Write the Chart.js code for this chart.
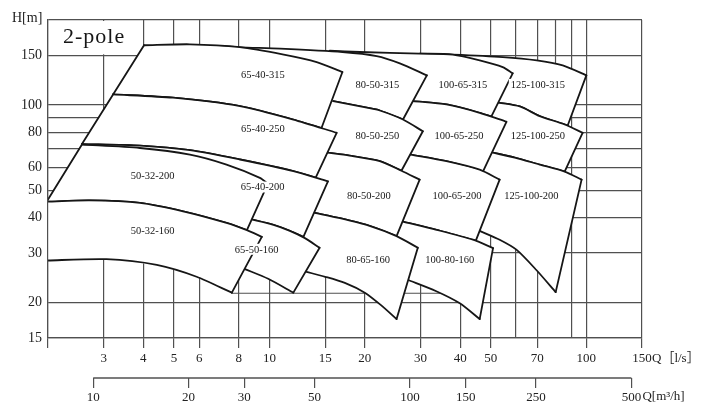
<!DOCTYPE html>
<html>
<head>
<meta charset="utf-8">
<script src="https://cdn.jsdelivr.net/npm/chart.js@4.4.0/dist/chart.umd.min.js"></script>
<style>
  html, body { margin: 0; padding: 0; background: #fff; }
  #wrap { width: 701px; height: 414px; }
</style>
</head>
<body>
<div id="wrap"><canvas id="chart"></canvas></div>
<script>
// axis ticks
const qTicks = [2, 3, 4, 5, 6, 8, 10, 15, 20, 30, 40, 50, 60, 70, 80, 90, 100, 150];
const qLabeled = [3, 4, 5, 6, 8, 10, 15, 20, 30, 40, 50, 70, 100, 150];
const hTicks = [15, 20, 30, 40, 50, 60, 70, 80, 90, 100, 150, 200];
const hLabeled = [15, 20, 30, 40, 50, 60, 80, 100, 150];
const m3hTicks = [10, 20, 30, 50, 100, 150, 250, 500];

// tile outlines as [Q l/s, H m]: top edge left->right, bottom edge right->left,
// plus hidden points that only close the white fill
const top125_315 = [[29.8,152.1],[37.9,150.9],[54.5,147.9],[69.8,144.0],[84.3,138.2],[100.1,127.4]];
const bot125_315 = [[87.4,84.7],[71.3,91.4],[61.7,98.9],[52.2,102.2]];
const hid125_315 = [[42.9,118.4]];
const top125_250 = [[52.2,102.2],[61.7,98.9],[71.3,91.4],[85.5,85.4],[97.4,79.8]];
const bot125_250 = [[85.5,58.2],[71.3,61.6],[59.5,65.2],[50.7,67.9]];
const hid125_250 = [[42.9,75.5],[42.9,100.5]];
const top125_200 = [[50.7,67.9],[59.5,65.2],[71.3,61.6],[85.5,58.2],[96.7,54.5]];
const bot125_200 = [[80.1,21.8],[69.6,26.1],[60.2,30.8],[53.3,33.4],[46.1,35.9]];
const hid125_200 = [[39.9,46.3],[42.9,69.6]];

const top100_315 = [[15.5,155.7],[19.3,154.1],[29.8,152.1],[37.9,150.9],[46.1,144.0],[54.5,136.3],[58.6,129.5]];
const bot100_315 = [[50.2,91.2],[46.1,93.9],[36.2,100.5],[28.4,103.3]];
const hid100_315 = [[22.3,123.3]];
const top100_250 = [[28.4,103.3],[36.2,100.5],[46.1,93.9],[56.0,87.3]];
const bot100_250 = [[47.2,58.2],[36.2,63.3],[27.9,66.8]];
const hid100_250 = [[24.0,82.0]];
const top100_200 = [[27.9,66.8],[36.2,63.3],[46.1,59.1],[53.3,54.5]];
const bot100_200 = [[44.8,33.1],[33.7,36.2],[26.4,38.7]];
const hid100_200 = [[23.1,50.2]];
const top100_160 = [[26.4,38.7],[33.7,36.2],[43.9,33.4],[50.8,31.2]];
const bot100_160 = [[46.1,17.5],[39.9,19.9],[33.5,22.0],[27.3,24.1]];
const hid100_160 = [[26.7,29.5],[24.9,35.6]];

const top80_315 = [[6.98,161.8],[8.07,160.1],[10.8,158.4],[17.0,154.1],[21.8,149.1],[25.8,140.5],[31.4,127.4]];
const bot80_315 = [[26.4,88.9],[22.3,95.7],[20.3,97.9],[15.9,103.3]];
const hid80_315 = [[9.33,123.3]];
const top80_250 = [[15.9,103.3],[20.3,97.9],[22.3,95.7],[26.4,88.9],[30.5,80.8]];
const bot80_250 = [[26.1,58.6],[22.3,63.4],[17.9,66.3],[15.2,67.9]];
const hid80_250 = [[12.5,75.5]];
const top80_200 = [[15.2,67.9],[17.9,66.3],[22.3,63.4],[26.1,58.6],[29.8,54.5]];
const bot80_200 = [[25.2,34.4],[20.7,37.4],[16.7,39.8],[13.9,41.6]];
const hid80_200 = [[12.5,50.2]];
const top80_160 = [[13.9,41.6],[16.7,39.8],[20.7,37.4],[25.2,34.4],[29.4,31.3]];
const bot80_160 = [[25.2,17.5],[22.5,19.6],[20.0,21.7],[17.3,23.5],[15.0,24.7],[13.1,25.7]];
const hid80_160 = [[11.6,32.0]];

const top65_315 = [[4.02,162.8],[5.61,164.1],[8.07,160.3],[11.0,151.2],[14.1,142.0],[17.0,130.9]];
const bot65_315 = [[14.6,83.0],[11.9,88.9],[8.07,99.2],[4.96,106.2],[3.21,109.1]];
const top65_250 = [[3.21,109.1],[4.96,106.2],[8.07,99.2],[11.9,88.9],[16.3,79.8]];
const bot65_250 = [[14.0,55.4],[11.9,58.4],[8.07,64.2],[5.61,69.3],[3.90,71.9],[2.56,72.8]];
const top65_200 = [[2.56,72.8],[3.90,71.9],[5.61,69.3],[8.07,64.2],[11.9,58.4],[15.3,53.7]];
const bot65_200 = [[12.8,34.2],[11.6,35.9],[10.3,37.7],[8.68,39.5]];
const hid65_200 = [[7.50,46.3]];
const top65_160 = [[8.68,39.5],[10.3,37.7],[11.6,35.9],[12.9,33.9],[14.4,31.3]];
const bot65_160 = [[11.9,21.7],[9.91,24.3],[8.37,26.3]];
const hid65_160 = [[7.95,33.4],[8.49,38.7]];

const top50_200 = [[2.56,72.5],[3.90,70.5],[5.61,66.8],[7.32,61.6],[9.33,55.3],[9.89,52.7]];
const bot50_200 = [[8.49,36.1],[7.32,38.3],[5.34,42.1],[3.90,45.1],[2.71,46.0],[1.98,45.5]];
const top50_160 = [[1.94,45.5],[2.71,46.0],[3.90,45.1],[5.34,42.1],[7.32,38.3],[8.49,36.1],[9.46,34.2]];
const bot50_160 = [[7.61,21.7],[5.89,24.7],[4.41,27.2],[3.06,28.5],[2.0,28.2],[1.94,28.1]];

// loose rules that are not on the regular grid
const grid80 = [[80,200],[80,25]];
const step22 = [[7.61,21.6],[34.5,21.6]];

// type labels
const tileNames = ['65-40-315','65-40-250','50-32-200','65-40-200','50-32-160','65-50-160',
  '80-50-315','100-65-315','125-100-315','80-50-250','100-65-250','125-100-250',
  '80-50-200','100-65-200','125-100-200','80-65-160','100-80-160'];
const labelQ = [9.53, 9.53, 4.28, 9.51, 4.28, 9.11, 21.9, 40.8, 70.4, 21.9, 39.7, 70.4, 20.6, 39.1, 67.1, 20.5, 37.1];
const labelH = [127.7, 82.6, 56.3, 51.3, 36.0, 30.9, 118.4, 118.4, 118.4, 78.1, 78.1, 78.1, 47.6, 47.6, 47.6, 28.4, 28.4];

const SERIF = '"Liberation Serif", "Noto Sans CJK SC", serif';
const INK = '#161616';
const GRID = '#505050';
const CLEAR = 'rgba(0,0,0,0)';

// drawing order: right columns first, so tiles further left lie on top
const tiles = [
  [top125_315, bot125_315, hid125_315, false],
  [top125_250, bot125_250, hid125_250, false],
  [top125_200, bot125_200, hid125_200, false],
  [top100_315, bot100_315, hid100_315, false],
  [top100_250, bot100_250, hid100_250, false],
  [top100_200, bot100_200, hid100_200, false],
  [top100_160, bot100_160, hid100_160, false],
  [top80_315, bot80_315, hid80_315, false],
  [top80_250, bot80_250, hid80_250, false],
  [top80_200, bot80_200, hid80_200, false],
  [top80_160, bot80_160, hid80_160, false],
  [top65_315, bot65_315, [], true],
  [top65_250, bot65_250, [], true],
  [top65_200, bot65_200, hid65_200, false],
  [top65_160, bot65_160, hid65_160, false],
  [top50_200, bot50_200, [], true],
  [top50_160, bot50_160, [], false]
];

const layers = [];
function addLine(list, extra) {
  layers.push(Object.assign({
    data: list.map(p => ({ x: p[0], y: p[1] })),
    xAxisID: 'x', yAxisID: 'y',
    fill: false, borderColor: INK, borderWidth: 1.8, borderCapStyle: 'round',
    pointRadius: 0, pointHoverRadius: 0, tension: 0
  }, extra));
}

addLine(grid80, { borderColor: GRID, borderWidth: 1.2 });
addLine(step22, { borderColor: GRID, borderWidth: 1.2 });

tiles.forEach(([top, bot, hid, left]) => {
  addLine(top.concat(bot, hid), { fill: 'shape', backgroundColor: '#fff', borderWidth: 0, borderColor: CLEAR });
  addLine(top, { tension: 0.25 });
  addLine([top[top.length - 1], bot[0]]);
  addLine(bot, { tension: 0.25 });
  if (left) addLine([bot[bot.length - 1], top[0]]);
});

// first entry at the bottom of the stack
layers.forEach((d, i) => { d.order = layers.length - i; });

const decor = {
  id: 'decor',
  beforeDatasetsDraw(chart) {
    const { ctx, scales: { x, y } } = chart;
    const l = x.getPixelForValue(2), r = x.getPixelForValue(4);
    const t = y.getPixelForValue(200), b = y.getPixelForValue(150);
    ctx.save();
    ctx.fillStyle = '#fff';
    ctx.fillRect(l + 1, t + 1, r - l - 2, b - t - 2);
    ctx.fillStyle = INK;
    ctx.font = '22px ' + SERIF;
    ctx.letterSpacing = '1px';
    ctx.textAlign = 'left';
    ctx.textBaseline = 'alphabetic';
    ctx.fillText('2-pole', l + 15, b - 12);
    ctx.restore();
  },
  afterDatasetsDraw(chart) {
    const { ctx, scales: { x, y } } = chart;
    ctx.save();
    ctx.font = '10.5px ' + SERIF;
    ctx.textAlign = 'center';
    ctx.textBaseline = 'middle';
    tileNames.forEach((name, i) => {
      const px = x.getPixelForValue(labelQ[i]);
      const py = y.getPixelForValue(labelH[i]);
      const w = ctx.measureText(name).width;
      ctx.fillStyle = '#fff';
      ctx.fillRect(px - w / 2 - 2, py - 5.5, w + 4, 11);
      ctx.fillStyle = INK;
      ctx.fillText(name, px, py + 0.5);
    });
    ctx.restore();
  },
  afterDraw(chart) {
    const { ctx, scales: { x, x2 } } = chart;
    ctx.save();
    // second flow axis only runs from 10 to 500 m3/h
    ctx.strokeStyle = GRID;
    ctx.lineWidth = 1.4;
    ctx.beginPath();
    ctx.moveTo(x2.getPixelForValue(m3hTicks[0]), x2.top);
    ctx.lineTo(x2.getPixelForValue(m3hTicks[m3hTicks.length - 1]), x2.top);
    ctx.stroke();

    ctx.fillStyle = '#222';
    ctx.font = '14px ' + SERIF;
    ctx.textAlign = 'left';
    ctx.textBaseline = 'alphabetic';
    ctx.fillText('H[m]', 12, 22);
    ctx.font = '13px ' + SERIF;
    ctx.textBaseline = 'middle';
    ctx.fillText('Q［l/s］', x.getPixelForValue(150) + 10, x.top + 21);
    ctx.fillText('Q[m³/h]', x2.getPixelForValue(500) + 11, x2.top + 19);
    ctx.restore();
  }
};

new Chart(document.getElementById('chart'), {
  type: 'line',
  data: { datasets: layers },
  options: {
    responsive: true,
    maintainAspectRatio: false,
    animation: false,
    events: [],
    layout: { padding: { top: 20, right: 59, bottom: 0, left: 0 } },
    plugins: { legend: { display: false }, tooltip: { enabled: false } },
    scales: {
      x: {
        type: 'logarithmic', position: 'bottom', weight: 1,
        min: 2, max: 150,
        afterBuildTicks: s => { s.ticks = qTicks.map(v => ({ value: v })); },
        afterFit: s => { s.height = 40; },
        ticks: {
          autoSkip: false, maxRotation: 0, minRotation: 0, padding: 3,
          color: '#222', font: { family: SERIF, size: 13 },
          callback: v => qLabeled.includes(v) ? String(v) : ''
        },
        grid: {
          color: c => (c.tick && c.tick.value === 80) ? CLEAR : GRID,
          lineWidth: 1.2, tickLength: 10, tickWidth: 1.2,
          tickColor: c => (c.tick && [60, 80, 90].includes(c.tick.value)) ? CLEAR : GRID
        },
        border: { display: true, color: GRID, width: 1.2, z: 1 }
      },
      x2: {
        type: 'logarithmic', position: 'bottom', weight: 2,
        min: 2 * 3.6, max: 150 * 3.6,
        afterBuildTicks: s => { s.ticks = m3hTicks.map(v => ({ value: v })); },
        afterFit: s => { s.height = 36; },
        ticks: {
          autoSkip: false, maxRotation: 0, minRotation: 0, padding: 2,
          color: '#222', font: { family: SERIF, size: 13 },
          callback: v => String(v)
        },
        grid: { drawOnChartArea: false, tickLength: 10, color: GRID, lineWidth: 1.2 },
        border: { display: false }
      },
      y: {
        type: 'logarithmic', position: 'left',
        min: 15, max: 200,
        afterBuildTicks: s => { s.ticks = hTicks.map(v => ({ value: v })); },
        afterFit: s => { s.width = 48; },
        ticks: {
          autoSkip: false, padding: 6,
          color: '#222', font: { family: SERIF, size: 14 },
          callback: v => hLabeled.includes(v) ? String(v) : ''
        },
        grid: { color: GRID, lineWidth: 1.2, drawTicks: false },
        border: { display: true, color: GRID, width: 1.2, z: 1 }
      }
    }
  },
  plugins: [decor]
});
</script>
</body>
</html>
